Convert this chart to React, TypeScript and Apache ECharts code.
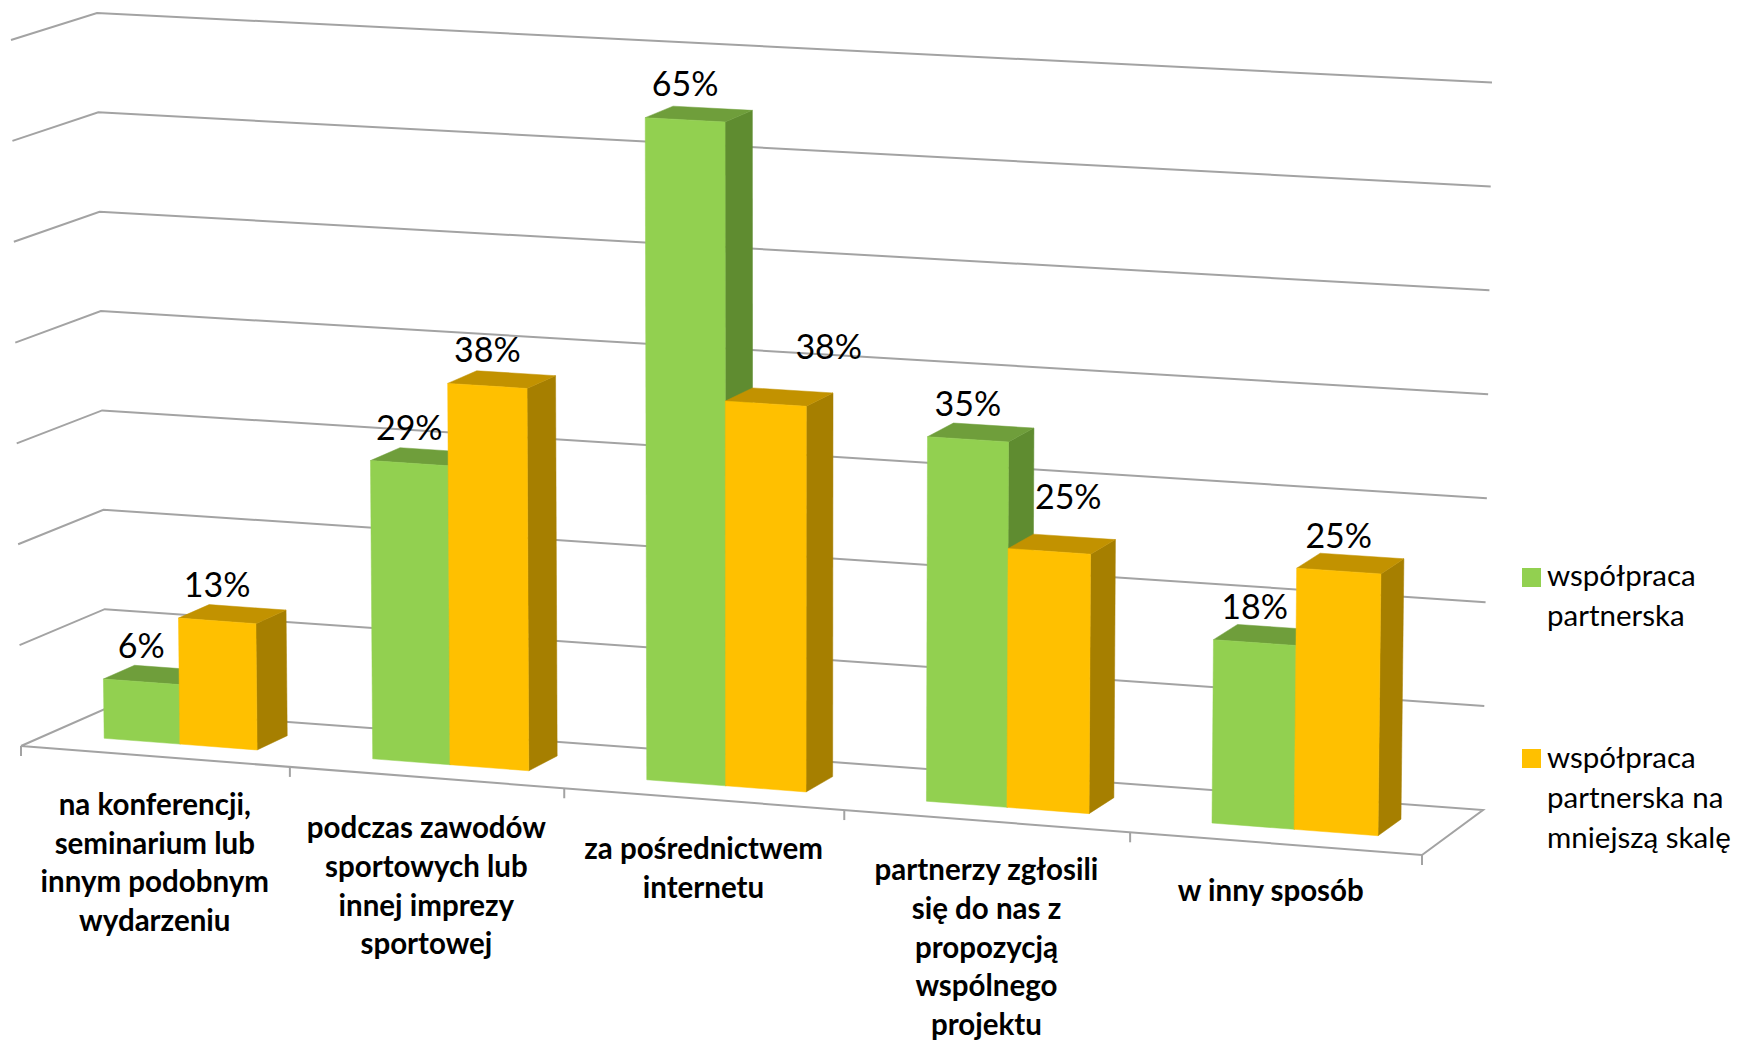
import React, { useEffect, useRef } from "react";
import * as echarts from "echarts";

const categories = [
  "na konferencji,\nseminarium lub\ninnym podobnym\nwydarzeniu",
  "podczas zawodów\nsportowych lub\ninnej imprezy\nsportowej",
  "za pośrednictwem\ninternetu",
  "partnerzy zgłosili\nsię do nas z\npropozycją\nwspólnego\nprojektu",
  "w inny sposób",
];
const seriesGreenName = "współpraca\npartnerska";
const seriesOrangeName = "współpraca\npartnerska na\nmniejszą skalę";
const greenValues = [5.9, 29.4, 64.7, 35.3, 17.6];
const orangeValues = [12.5, 37.5, 37.5, 25, 25];
const gridLevels = [0, 10, 20, 30, 40, 50, 60, 70];

const FONT = "Lato";
const GREEN = { front: "#92D050", top: "#6F9E3B", side: "#5F8C30" };
const ORANGE = { front: "#FFC000", top: "#C29200", side: "#A67F00" };
const GRID_COLOR = "#A3A3A3";

// Corners of the pseudo-3D box the flat grid is warped into.
const FL0 = [21, 746], FR0 = [1422, 855], BL0 = [106, 708.5], BR0 = [1483, 810];
const FL1 = [11, 40], FR1 = [1431, 117], BL1 = [97, 13], BR1 = [1492, 82.5];
const K = 0.95;
const D_FRONT = 0.32, D_BACK = 0.69;
const GREEN_WIDTH = 0.284, ORANGE_WIDTH = 0.288;
const S_SHIFT = -0.001;

const lerp = (a: number, b: number, t: number) => a + (b - a) * t;
const warp = (s: number, d: number, v: number): number[] => {
  const f = (s * K) / (1 + (K - 1) * s);
  return [0, 1].map((i) => {
    const front0 = lerp(FL0[i], FR0[i], f), back0 = lerp(BL0[i], BR0[i], f);
    const front1 = lerp(FL1[i], FR1[i], f), back1 = lerp(BL1[i], BR1[i], f);
    return lerp(lerp(front0, back0, d), lerp(front1, back1, d), v);
  });
};

// Turns a point of the library's scales into (s, v) fractions of the grid.
const fractions = (api: any, params: any, cat: number, val: number) => {
  const c = api.coord([cat, val]);
  const cs = params.coordSys;
  return { s: (c[0] - cs.x) / cs.width, v: (cs.y + cs.height - c[1]) / cs.height };
};

const poly = (points: number[][], fill: string) => ({
  type: "polygon",
  shape: { points },
  style: { fill, stroke: fill, lineWidth: 0.5 },
});

const barSeries = (name: string, values: number[], colors: any, side: number, width: number) => ({
  type: "custom",
  name,
  coordinateSystem: "cartesian2d",
  clip: false,
  data: values.map((v, i) => [i, v]),
  renderItem: (params: any, api: any) => {
    const { s, v } = fractions(api, params, api.value(0), api.value(1));
    const barW = (api.size([1, 0])[0] / params.coordSys.width) * width;
    const s0 = (side < 0 ? s - barW : s) + S_SHIFT;
    const s1 = s0 + barW;
    const d0 = D_FRONT, d1 = D_BACK;
    return {
      type: "group",
      children: [
        poly([warp(s1, d0, 0), warp(s1, d1, 0), warp(s1, d1, v), warp(s1, d0, v)], colors.side),
        poly([warp(s0, d0, v), warp(s1, d0, v), warp(s1, d1, v), warp(s0, d1, v)], colors.top),
        poly([warp(s0, d0, 0), warp(s1, d0, 0), warp(s1, d0, v), warp(s0, d0, v)], colors.front),
      ],
    };
  },
});

const labelSeries = (values: number[], side: number, width: number, shifts: number[][]) => ({
  type: "custom",
  coordinateSystem: "cartesian2d",
  clip: false,
  data: values.map((v, i) => [i, v]),
  renderItem: (params: any, api: any) => {
    const cat = api.value(0), val = api.value(1);
    const { s, v } = fractions(api, params, cat, val);
    const barW = (api.size([1, 0])[0] / params.coordSys.width) * width;
    const p = warp(s + S_SHIFT + (side * barW) / 2, D_FRONT, v);
    const shift = shifts[cat];
    return {
      type: "text",
      x: p[0] + shift[0],
      y: p[1] - 37 + shift[1],
      style: {
        text: `${Math.round(val)}%`,
        fontFamily: FONT,
        fontSize: 34,
        fill: "#000000",
        align: "center",
        verticalAlign: "middle",
      },
    };
  },
});

const greenLabelShifts = [[0, 0], [0, 0], [0, 0], [0, 0], [0, 0]];
const orangeLabelShifts = [[0, 0], [0, 0], [63, -21], [19, -19], [0, 0]];
const categoryLabelShifts = [[0, 0], [0, 2], [0, 2], [0, 0.5], [-4.5, -1]];

export default function App() {
  const ref = useRef<HTMLDivElement>(null);
  useEffect(() => {
    const chart = echarts.init(ref.current!, undefined, { renderer: "svg" });
    chart.setOption({
      animation: false,
      backgroundColor: "#ffffff",
      grid: { left: 0, top: 0, right: 0, bottom: 0 },
      xAxis: { type: "category", data: categories, show: false },
      yAxis: { type: "value", min: 0, max: 70, interval: 10, show: false },
      graphic: [
        { type: "rect", left: 1522, top: 568, shape: { width: 19, height: 19 }, style: { fill: GREEN.front } },
        { type: "text", left: 1547, top: 554, style: { text: seriesGreenName, fontFamily: FONT, fontSize: 29.5, lineHeight: 40, fill: "#000" } },
        { type: "rect", left: 1522, top: 749, shape: { width: 19, height: 19 }, style: { fill: ORANGE.front } },
        { type: "text", left: 1547, top: 736, style: { text: seriesOrangeName, fontFamily: FONT, fontSize: 29.5, lineHeight: 40, fill: "#000" } },
      ],
      series: [
        {
          type: "custom",
          coordinateSystem: "cartesian2d",
          clip: false,
          data: gridLevels.map((l) => [0, l]),
          renderItem: (params: any, api: any) => {
            const { v } = fractions(api, params, api.value(0), api.value(1));
            const points = [warp(0, 0, v), warp(0, 1, v), warp(1, 1, v)];
            if (v === 0) points.push(warp(1, 0, 0), warp(0, 0, 0));
            return {
              type: "polyline",
              shape: { points },
              style: { stroke: GRID_COLOR, fill: "none", lineWidth: 2 },
            };
          },
        },
        {
          type: "custom",
          coordinateSystem: "cartesian2d",
          clip: false,
          data: [0, 1, 2, 3, 4, 5].map((i) => [i, 0]),
          renderItem: (params: any, api: any) => {
            const p = warp(api.value(0) / categories.length, 0, 0);
            return {
              type: "line",
              shape: { x1: p[0], y1: p[1], x2: p[0], y2: p[1] + 10 },
              style: { stroke: GRID_COLOR, lineWidth: 2 },
            };
          },
        },
        barSeries("g", greenValues, GREEN, -1, GREEN_WIDTH),
        barSeries("o", orangeValues, ORANGE, 1, ORANGE_WIDTH),
        labelSeries(greenValues, -1, GREEN_WIDTH, greenLabelShifts),
        labelSeries(orangeValues, 1, ORANGE_WIDTH, orangeLabelShifts),
        {
          type: "custom",
          coordinateSystem: "cartesian2d",
          clip: false,
          data: categories.map((_, i) => [i, 0]),
          renderItem: (params: any, api: any) => {
            const cat = api.value(0);
            const { s } = fractions(api, params, cat, 0);
            const p = warp(s, 0, 0);
            const shift = categoryLabelShifts[cat];
            return {
              type: "text",
              x: p[0] + shift[0],
              y: p[1] + 27.5 + shift[1],
              style: {
                text: categories[cat],
                fontFamily: FONT,
                fontWeight: "bold",
                fontSize: 29.5,
                lineHeight: 38.8,
                fill: "#000",
                align: "center",
                verticalAlign: "top",
              },
            };
          },
        },
      ],
    });
    return () => chart.dispose();
  }, []);
  return <div ref={ref} style={{ position: "absolute", left: 0, top: 0, width: 1739, height: 1042 }} />;
}
